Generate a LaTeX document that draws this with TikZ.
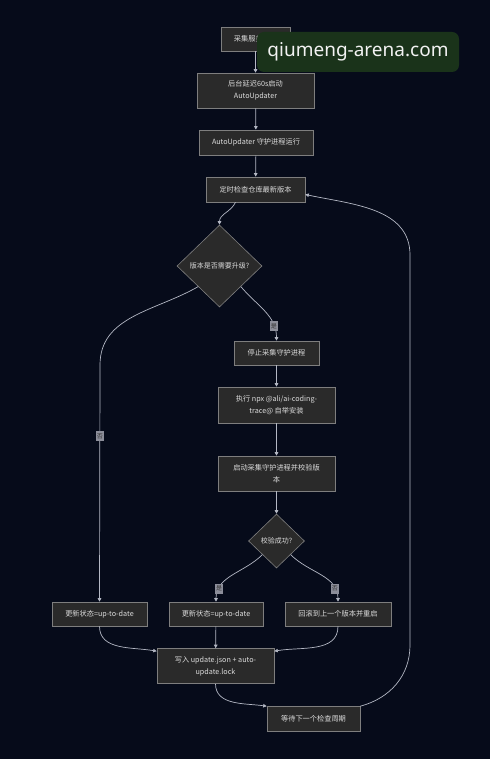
\documentclass[tikz,border=0pt]{standalone}
\usepackage{fontspec}
\setmainfont{Noto Sans CJK SC}
\newfontfamily\wmfont{Noto Sans}
\usetikzlibrary{shapes.geometric,arrows.meta}
\definecolor{bgc}{HTML}{060B1A}
\definecolor{nodefill}{HTML}{2A2A2A}
\definecolor{nodedraw}{HTML}{7E7E7E}
\definecolor{txt}{HTML}{DCDCDC}
\definecolor{edgec}{HTML}{B4B8C4}
\definecolor{wmfill}{HTML}{1A331A}
\definecolor{lblfill}{HTML}{8C8E9A}
\tikzset{
  box/.style={draw=nodedraw, fill=nodefill, line width=0.6pt, text=txt, align=center,
    font=\fontsize{7.2}{12}\selectfont, inner sep=0pt},
  dia/.style={diamond, draw=nodedraw, fill=nodefill, line width=0.6pt, text=txt, align=center,
    font=\fontsize{7}{9}\selectfont, inner sep=0pt},
  edge/.style={draw=edgec, line width=0.7pt, -{Triangle[length=3.5pt,width=3.5pt]}},
  lbl/.style={fill=lblfill, text=black!80, font=\fontsize{6}{6}\selectfont, inner sep=1pt, minimum width=7pt, minimum height=10pt}
}
\begin{document}
\begin{tikzpicture}[x=1pt,y=-1pt]
\useasboundingbox (0,0) rectangle (490,759);
\fill[bgc] (0,0) rectangle (490,759);

\node[box, minimum width=69pt, minimum height=24pt] (start) at (255.5,39) {采集服务启动};
\node[box, minimum width=117pt, minimum height=35pt] (delay) at (255.5,90.5) {后台延迟60s启动\\AutoUpdater};
\node[box, minimum width=114pt, minimum height=25pt] (daemon) at (256,142.5) {AutoUpdater 守护进程运行};
\node[box, minimum width=99pt, minimum height=25pt] (check) at (255.5,189.5) {定时检查仓库最新版本};
\node[dia, minimum width=85pt, minimum height=82pt] (need) at (219.5,266) {版本是否需要升级?};
\node[box, minimum width=85pt, minimum height=24pt] (stop) at (276.5,353) {停止采集守护进程};
\node[box, minimum width=117pt, minimum height=36pt] (npx) at (276.5,405) {执行 npx @ali/ai-coding-\\trace@ 自举安装};
\node[box, minimum width=117pt, minimum height=35pt] (restart) at (276.5,473.5) {启动采集守护进程并校验版\\本};
\node[dia, minimum width=56pt, minimum height=54pt] (ok) at (276.5,541) {校验成功?};
\node[box, minimum width=95pt, minimum height=24pt] (upL) at (99.5,614) {更新状态=up-to-date};
\node[box, minimum width=94pt, minimum height=24pt] (upM) at (216,614) {更新状态=up-to-date};
\node[box, minimum width=106pt, minimum height=24pt] (rb) at (338,614) {回滚到上一个版本并重启};
\node[box, minimum width=117pt, minimum height=35pt] (write) at (215.5,666) {写入 update.json + auto-\\update.lock};
\node[box, minimum width=93pt, minimum height=25pt] (wait) at (313.5,719) {等待下一个检查周期};

\coordinate (cL) at (100,365);
\coordinate (loopB) at (410,645);
\coordinate (loopT) at (410,255);

\draw[edge] (start) -- (delay);
\draw[edge] (delay) -- (daemon);
\draw[edge] (daemon) -- (check);
\draw[edge] ([xshift=-20pt]check.south) to[out=-115,in=90] (need.north);
\draw[edge] (need.south east) to[out=-50,in=90] node[lbl, pos=0.78] {是} (stop.north);
\draw[edge] (need.south west) to[out=-150,in=90] (cL) -- node[lbl, pos=0.3] {否} (upL.north);
\draw[edge] (stop) -- (npx);
\draw[edge] (npx) -- (restart);
\draw[edge] (restart) -- (ok);
\draw[edge] (ok.south west) to[out=-135,in=90] node[lbl, pos=0.8] {是} (upM.north);
\draw[edge] (ok.south east) to[out=-45,in=90] node[lbl, pos=0.8] {否} (rb.north);
\draw[edge] (upL.south) to[out=-90,in=170] ([yshift=-3pt]write.north west);
\draw[edge] (upM) -- (write);
\draw[edge] (rb.south) to[out=-90,in=10] ([yshift=-3pt]write.north east);
\draw[edge] (write.south) to[out=-90,in=172] (wait.north west);
\draw[edge] (wait.north east) to[out=15,in=-90] (loopB) -- (loopT) to[out=90,in=-12] ([yshift=-5pt]check.east);

% watermark
\node[fill=wmfill, rounded corners=7pt, minimum width=202pt, minimum height=40pt, inner sep=0pt,
  text=white!90!gray, font=\wmfont\fontsize{19}{19}\selectfont] (wm) at (358,52) {qiumeng-arena.com};
\end{tikzpicture}
\end{document}
